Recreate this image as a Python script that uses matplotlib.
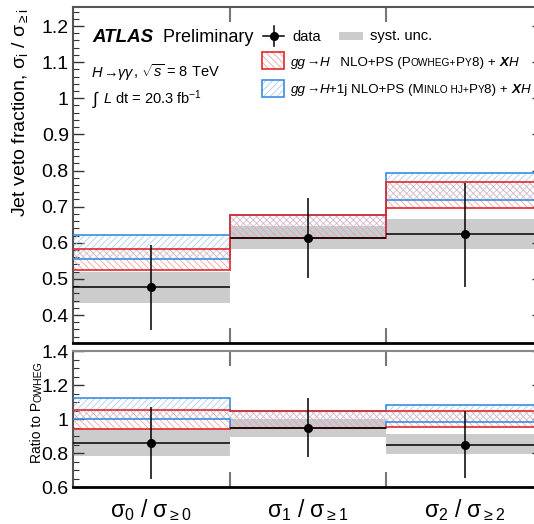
import matplotlib
matplotlib.use('Agg')
import matplotlib.pyplot as plt
import numpy as np
from matplotlib.ticker import MultipleLocator, FuncFormatter
from matplotlib.transforms import IdentityTransform
from matplotlib.lines import Line2D
from matplotlib.patches import Rectangle

plt.rcParams['font.family'] = ['Liberation Sans', 'DejaVu Sans']
plt.rcParams['mathtext.fontset'] = 'custom'
plt.rcParams['mathtext.rm'] = 'Liberation Sans'
plt.rcParams['mathtext.it'] = 'Liberation Sans:italic'
plt.rcParams['mathtext.bf'] = 'Liberation Sans:bold'
plt.rcParams['hatch.linewidth'] = 0.6

W, H, DPI = 534, 524, 100

# ---------------- data ----------------
categories = [r'$\mathregular{\sigma_0\ /\ \sigma_{\geq 0}}$',
              r'$\mathregular{\sigma_1\ /\ \sigma_{\geq 1}}$',
              r'$\mathregular{\sigma_2\ /\ \sigma_{\geq 2}}$']
bin_edges = [0, 1, 2, 3]

data_val = [0.477, 0.612, 0.624]
data_lo = [0.359, 0.502, 0.478]
data_hi = [0.595, 0.723, 0.766]
syst_lo = [0.433, 0.582, 0.582]
syst_hi = [0.518, 0.645, 0.665]
powheg_lo = [0.524, 0.612, 0.697]
powheg_hi = [0.583, 0.678, 0.767]
minlo_lo = [0.554, 0.614, 0.719]
minlo_hi = [0.621, 0.676, 0.794]

ratio_val = [0.858, 0.949, 0.850]
ratio_lo = [0.647, 0.778, 0.651]
ratio_hi = [1.072, 1.123, 1.047]
ratio_syst_lo = [0.780, 0.897, 0.795]
ratio_syst_hi = [0.940, 1.000, 0.910]
ratio_powheg_lo = [0.940, 0.948, 0.951]
ratio_powheg_hi = [1.051, 1.047, 1.045]
ratio_minlo_lo = [0.998, 0.948, 0.980]
ratio_minlo_hi = [1.121, 1.050, 1.080]

top_yticks = [0.4, 0.5, 0.6, 0.7, 0.8, 0.9, 1.0, 1.1, 1.2]
bot_yticks = [0.6, 0.8, 1.0, 1.2, 1.4]

# ---------------- style ----------------
GREY = '#cccccc'
RED = '#e0282c'
RED_H = '#f2a0a0'
BLUE = '#3a8ee0'
BLUE_H = '#a8cdf2'
SPINE = '#555555'

fig = plt.figure(figsize=(W / DPI, H / DPI), dpi=DPI)
ax1 = fig.add_axes([73 / W, 1 - 343 / H, 470 / W, 336 / H])
ax2 = fig.add_axes([73 / W, 1 - 487 / H, 470 / W, 136 / H])

edges = np.array(bin_edges, float)
centers = 0.5 * (edges[:-1] + edges[1:])

RED_HATCH = '\\' * 5
BLUE_HATCH = '/' * 5


def draw_panel(ax, val, lo, hi, slo, shi, plo, phi, mlo, mhi):
    ax.stairs(shi, edges, baseline=slo, fill=True, color=GREY, lw=0, zorder=1)
    ax.stairs(mhi, edges, baseline=mlo, fill=True, facecolor='none',
              edgecolor=BLUE_H, hatch=BLUE_HATCH, lw=0, zorder=2)
    ax.stairs(phi, edges, baseline=plo, fill=True, facecolor='none',
              edgecolor=RED_H, hatch=RED_HATCH, lw=0, zorder=2)
    for arr in (mhi, mlo):
        ax.stairs(arr, edges, baseline=None, color=BLUE, lw=1.2, zorder=3)
    for arr in (phi, plo):
        ax.stairs(arr, edges, baseline=None, color=RED, lw=1.2, zorder=3)
    v = np.array(val)
    ax.errorbar(centers, v, yerr=[v - np.array(lo), np.array(hi) - v], xerr=0.5,
                fmt='o', color='k', ms=5.5, elinewidth=1.1, capsize=0, zorder=5)
    ax.set_xlim(0, 3)
    ax.set_xticks([1, 2])
    ax.tick_params(axis='x', which='major', direction='in', length=11, width=1.5,
                   color='#777777', top=True, bottom=True, labelbottom=False)
    ax.tick_params(axis='y', which='both', direction='in', left=True, right=True,
                   color='#333333', labelsize=14, pad=3)
    ax.tick_params(axis='y', which='major', length=8, width=1.0)
    ax.tick_params(axis='y', which='minor', length=4, width=0.8)
    ax.yaxis.set_major_formatter(FuncFormatter(lambda x, p: f'{x:g}'))
    for s in ('left', 'top', 'right'):
        ax.spines[s].set_color(SPINE)
        ax.spines[s].set_linewidth(1.5)
    ax.spines['bottom'].set_color('k')
    ax.spines['bottom'].set_linewidth(2)


draw_panel(ax1, data_val, data_lo, data_hi, syst_lo, syst_hi,
           powheg_lo, powheg_hi, minlo_lo, minlo_hi)
draw_panel(ax2, ratio_val, ratio_lo, ratio_hi, ratio_syst_lo, ratio_syst_hi,
           ratio_powheg_lo, ratio_powheg_hi, ratio_minlo_lo, ratio_minlo_hi)

ax1.set_ylim(0.3225, 1.2526)
ax1.set_yticks(top_yticks)
ax1.yaxis.set_minor_locator(MultipleLocator(0.02))
ax2.set_ylim(0.6, 1.4)
ax2.set_yticks(bot_yticks)
ax2.yaxis.set_minor_locator(MultipleLocator(0.05))
ax2.spines['top'].set_color('#888888')

for c, lab in zip(centers, categories):
    ax2.text(c, -0.17, lab, transform=ax2.get_xaxis_transform(),
             ha='center', va='center', fontsize=16.5)

# y label top
fig.text(20 / W, 1 - 113 / H,
         r'Jet veto fraction, $\mathregular{\sigma_i\ /\ \sigma_{\geq i}}$',
         rotation=90, ha='center', va='center', fontsize=14)

# ---------------- rich text helper ----------------
renderer = fig.canvas.get_renderer()


def text_width(s, props):
    t1 = fig.text(0, 0, '|' + s + '|', **props)
    t2 = fig.text(0, 0, '||', **props)
    w = t1.get_window_extent(renderer).width - t2.get_window_extent(renderer).width
    t1.remove()
    t2.remove()
    return w


def rich(x, y, parts, rotation=0):
    """x, y: pixel coords from top-left of baseline start.
    A part given as a number is a horizontal gap in pixels."""
    d = 0.0
    for part in parts:
        if isinstance(part, (int, float)):
            d += part
            continue
        s, props = part
        if rotation == 0:
            fig.text(x + d, H - y, s, transform=IdentityTransform(), ha='left',
                     va='baseline', **props)
        else:
            fig.text(x, H - y + d, s, transform=IdentityTransform(), ha='left',
                     va='baseline', rotation=90, rotation_mode='anchor', **props)
        d += text_width(s, props)


FS = 9.6
N = dict(fontsize=FS)
S = dict(fontsize=7.3)
I = dict(fontsize=FS, style='italic')
BI = dict(fontsize=FS, style='italic', weight='bold')

# ratio label with small caps
rich(41, 463, [('Ratio to P', dict(fontsize=10)), ('OWHEG', dict(fontsize=7.6))], rotation=90)

# ATLAS label
rich(92, 42, [('ATLAS', dict(fontsize=13.5, style='italic', weight='bold')),
              ('  Preliminary', dict(fontsize=13))])
rich(92, 77, [('H', dict(fontsize=10.5, style='italic')), ('\u2192', dict(fontsize=10.5)),
              (r'$\gamma\gamma$', dict(fontsize=10.5)),
              (r', $\sqrt{s}$ = 8 TeV', dict(fontsize=10.5))])
rich(92, 104, [(r'$\int$', dict(fontsize=12.5)), 6,
               (r'$L$ dt = 20.3 fb$^{\mathregular{-1}}$', dict(fontsize=10.5))])

# legend: data
fig.add_artist(Line2D([263, 284], [H - 36, H - 36], color='k', lw=1.1,
                      transform=IdentityTransform()))
fig.add_artist(Line2D([273.5, 273.5], [H - 26, H - 46], color='k', lw=1.1,
                      transform=IdentityTransform()))
fig.add_artist(Line2D([273.5], [H - 36], color='k', marker='o', ms=5.5,
                      transform=IdentityTransform()))
rich(292, 41, [('data', dict(fontsize=10.5))])
fig.add_artist(Rectangle((339, H - 40), 24, 8, color=GREY, lw=0,
                         transform=IdentityTransform()))
rich(370, 40, [('syst. unc.', dict(fontsize=10.5))])

# legend: hatched boxes
for y0, hc, ec, hatch in ((52, RED_H, RED, RED_HATCH), (80, BLUE_H, BLUE, BLUE_HATCH)):
    fig.add_artist(Rectangle((262, H - y0 - 17), 22, 17, facecolor='none', edgecolor=hc,
                             hatch=hatch, lw=0, transform=IdentityTransform()))
    fig.add_artist(Rectangle((262, H - y0 - 17), 22, 17, fill=False, edgecolor=ec,
                             lw=1.2, transform=IdentityTransform()))

rich(291, 66, [('gg', I), ('\u2192', N), ('H', I),
               ('   NLO+PS (P', N), ('OWHEG+', S), ('P', N), ('Y', S), ('8) + ', N),
               ('X', BI), ('H', I)])
rich(291, 93, [('gg', I), ('\u2192', N), ('H', I),
               ('+1j NLO+PS (M', N), ('INLO HJ+', S), ('P', N), ('Y', S), ('8) + ', N),
               ('X', BI), ('H', I)])

fig.savefig('out.png', dpi=DPI)
